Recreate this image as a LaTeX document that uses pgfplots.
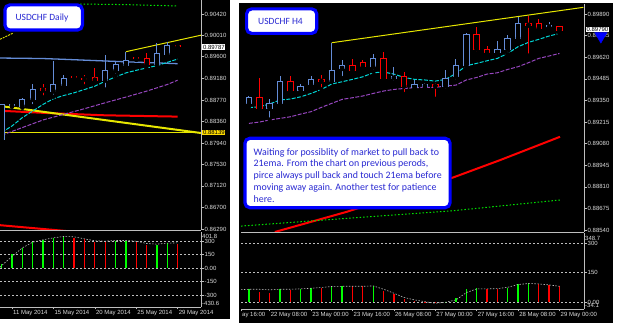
\documentclass[border=0pt]{standalone}
\usepackage{fontspec}
\setmainfont{Liberation Sans}
\newfontfamily\carlito{Carlito}
\usepackage{pgfplots}
\pgfplotsset{compat=1.18}
\usepackage{pgfplotstable}

\definecolor{candleblue}{RGB}{100,140,215}
\definecolor{mtred}{RGB}{255,0,0}
\definecolor{mtcyan}{RGB}{0,215,215}
\definecolor{mtpurple}{RGB}{150,70,190}
\definecolor{mtyellow}{RGB}{230,230,0}
\definecolor{mtgreen}{RGB}{0,230,0}
\definecolor{histgreen}{RGB}{0,255,0}
\definecolor{axisgray}{RGB}{190,190,190}
\definecolor{labelgray}{RGB}{220,220,220}
\definecolor{boxblue}{RGB}{0,0,255}
\definecolor{textblue}{RGB}{40,40,210}
\definecolor{pricegold}{RGB}{255,220,0}

\newcommand\ticklbl{\fontsize{6}{7}\selectfont}

\pgfplotstableread{
x o h l c
0 0.8802 0.8870 0.8798 0.8868
1 0.8866 0.8869 0.8864 0.8868
2 0.8865 0.8881 0.8862 0.8878
3 0.8878 0.8908 0.8865 0.8897
5 0.8894 0.8951 0.8883 0.8907
6 0.8905 0.8924 0.8898 0.8919
10 0.8915 0.8964 0.8897 0.8933
11 0.8933 0.8951 0.8923 0.8945
12 0.8944 0.8970 0.8944 0.8953
15 0.8945 0.8986 0.8937 0.8966
16 0.8965 0.8989 0.8964 0.8982
}\LBull
\pgfplotstableread{
x o h l c
4 0.8898 0.8907 0.8882 0.8896
7 0.8922 0.8923 0.8919 0.8920
8 0.8918 0.8924 0.8903 0.8917
9 0.8921 0.8938 0.8913 0.8915
13 0.8959 0.8960 0.8954 0.8956
14 0.8956 0.8967 0.8937 0.8945
17 0.8981 0.8981 0.8977 0.8979
}\LBear
\pgfplotstableread{
x o h l c
0 0.8933 0.8938 0.8931 0.8937
2 0.8930 0.8936 0.8923 0.8933
3 0.8933 0.8950 0.8932 0.8947
5 0.8941 0.8945 0.8939 0.8944
6 0.8945 0.8950 0.8944 0.8948
8 0.8947 0.8971 0.8947 0.8954
9 0.8955 0.8960 0.8949 0.8957
12 0.8956 0.8964 0.8953 0.8961
14 0.8949 0.8956 0.8946 0.8950
16 0.8943 0.8948 0.8942 0.8945
17 0.8944 0.8946 0.8943 0.8945
19 0.8944 0.8954 0.8941 0.8949
20 0.8950 0.8961 0.8947 0.8957
21 0.8957 0.8977 0.8956 0.8976
24 0.8965 0.8972 0.8965 0.8967
25 0.8967 0.8976 0.8964 0.8974
26 0.8974 0.8987 0.8973 0.8983
29 0.8981 0.8984 0.8979 0.8982
}\RBull
\pgfplotstableread{
x o h l c
1 0.8937 0.8949 0.8930 0.8930
4 0.8947 0.8950 0.8941 0.8941
7 0.8948 0.8951 0.8942 0.8947
10 0.8957 0.8961 0.8952 0.8954
11 0.8959 0.8960 0.8955 0.8956
13 0.8961 0.8965 0.8949 0.8949
15 0.8950 0.8953 0.8939 0.8944
18 0.8945 0.8946 0.8936 0.8944
22 0.8976 0.8981 0.8964 0.8967
23 0.8967 0.8969 0.8964 0.8965
27 0.8983 0.8988 0.8963 0.8982
28 0.8983 0.8986 0.8980 0.8980
30 0.8981 0.8981 0.8977 0.8979
}\RBear

\pgfplotsset{
  mtaxis/.style={scale only axis, anchor=south west,
    axis line style={draw=axisgray, -, line width=0.7pt},
    tick style={draw=axisgray, line width=0.6pt},
    tick align=outside, major tick length=2.5pt,
    ticklabel style={font=\ticklbl, text=labelgray},
    yticklabel style={anchor=west, inner sep=0pt, xshift=1pt},
    xticklabel style={anchor=north west, inner sep=0pt, yshift=-1pt, xshift=1pt}},
  wick/.style={only marks, mark=none, forget plot,
    error bars/.cd, y dir=plus, y explicit, error mark=none,
    error bar style={draw=#1, line width=1pt}},
  body/.style 2 args={only marks, mark=none, forget plot,
    error bars/.cd, y dir=plus, y explicit, error mark=none,
    error bar style={draw=#1, line width=#2}},
}

% candles: #1 table, #2 colour, #3 outer width, #4 inner width, #5 half pixel in price
\newcommand\candles[5]{%
  \addplot[wick=#2] table[x=x, y=l, y error plus expr=\thisrow{h}-\thisrow{l}] {#1};
  \addplot[body={#2}{#3}] table[x=x, y expr={min(\thisrow{o},\thisrow{c})-#5},
     y error plus expr={abs(\thisrow{c}-\thisrow{o})+2*#5}] {#1};
  \addplot[body={black}{#4}] table[x=x, y expr={min(\thisrow{o},\thisrow{c})+#5},
     y error plus expr={max(abs(\thisrow{c}-\thisrow{o})-2*#5,0)}] {#1};
}

\begin{document}
\begin{tikzpicture}
\useasboundingbox (0pt,0pt) rectangle (625pt,323pt);
\fill[white] (0pt,0pt) rectangle (625pt,323pt);
\fill[black] (0pt,4pt) rectangle (229.5pt,323pt);
\fill[black] (238.5pt,0pt) rectangle (613pt,319.7pt);

% ================= LEFT PANEL =================
\begin{scope}
\clip (0pt,4pt) rectangle (229.5pt,323pt);
\begin{axis}[mtaxis, at={(0pt,93pt)}, width=201pt, height=230pt,
  xmin=-0.164, xmax=19.26, ymin=0.86273, ymax=0.90689,
  hide x axis, axis y line*=right,
  ytick={0.8629,0.8670,0.8712,0.8753,0.8794,0.8836,0.8877,0.8918,0.8960,0.9001,0.9042},
  yticklabels={0.86290,0.86700,0.87120,0.87530,0.87940,0.88360,0.88770,0.89180,0.89600,0.90010,0.90420}]
  \addplot[candleblue, line width=1.3pt] coordinates {(-0.2,0.89575) (4,0.89565) (6,0.8955) (11,0.8951) (17,0.89466)};
  \addplot[mtred, line width=2pt] coordinates {(-0.2,0.88563) (5,0.88513) (10,0.88475) (17,0.8845)};
  \addplot[mtred, line width=2pt] coordinates {(-0.2,0.86366) (6.3,0.86252) (8,0.8622)};
  \addplot[mtyellow, line width=2pt] coordinates {(-0.164,0.88654) (19.26,0.88135)};
  \addplot[mtyellow, line width=1.1pt] coordinates {(0.22,0.88139) (19.26,0.88139)};
  \addplot[mtyellow, line width=0.9pt, dash pattern=on 2pt off 1pt] coordinates {(-0.164,0.89934) (1.06,0.90049)};
  \addplot[mtyellow, line width=1pt] coordinates {(12,0.89696) (19.35,0.90017)};
  \addplot[mtgreen, line width=1pt, dash pattern=on 1.5pt off 2pt] coordinates {(7.57,0.90612) (12,0.90600) (17,0.90574)};
  \addplot[mtpurple, line width=1pt, dash pattern=on 4pt off 1.5pt] coordinates {
    (0,0.88093) (2,0.88240) (4,0.88386) (6,0.88494) (8,0.88602) (10,0.88716)
    (12,0.88825) (14,0.88939) (16,0.89066) (17,0.89149)};
  \addplot[mtcyan, line width=1pt, dash pattern=on 4pt off 1.5pt] coordinates {
    (0,0.88145) (1,0.88271) (2,0.88431) (3,0.88557) (4,0.88685) (5,0.88793)
    (6,0.88856) (7,0.88907) (8,0.88971) (9,0.89034) (10,0.89129) (11,0.89212)
    (12,0.89289) (13,0.89339) (14,0.89384) (15,0.89428) (16,0.89492) (17,0.89555)};
  \candles{\LBull}{candleblue}{6pt}{4pt}{0.0001}
  \candles{\LBear}{mtred}{6pt}{4pt}{0.0001}
\end{axis}

\begin{axis}[mtaxis, at={(0pt,16pt)}, width=201pt, height=75pt,
  xmin=-0.164, xmax=19.26, ymin=-430.6, ymax=401.8,
  axis x line*=bottom, axis y line*=right,
  xtick={1,5,9,13,17},
  xticklabels={11 May 2014,15 May 2014,20 May 2014,25 May 2014,29 May 2014},
  ytick={-300,-150,0,150,300}, yticklabels={-300,-150,0.00,150,300},
  extra y ticks={-386,357}, extra y tick labels={-430.6,401.8},
  extra y tick style={grid=none, major tick length=0pt},
  ymajorgrids, major grid style={draw=axisgray, line width=0.5pt, dash pattern=on 2pt off 2pt}]
  \addplot[ycomb, histgreen, line width=1.3pt] coordinates {
    (0,48) (1,156) (2,226) (3,289) (4,315) (5,330) (6,352) (11,307) (12,304) (15,259) (16,281)};
  \addplot[ycomb, mtred, line width=1.3pt] coordinates {
    (7,337) (8,319) (9,293) (10,293) (13,296) (14,259) (17,274)};
  \addplot[axisgray, line width=0.6pt, dash pattern=on 1.5pt off 1.5pt] coordinates {
    (-0.164,10) (0,30) (1,130) (2,226) (3,289) (4,315) (5,337) (6,352) (7,348) (8,326)
    (9,304) (10,300) (11,307) (12,307) (13,300) (14,274) (15,267) (16,278) (17,281)};
\end{axis}
\end{scope}
\draw[axisgray, line width=0.7pt] (0pt,92.7pt) -- (201pt,92.7pt);

% ================= RIGHT PANEL =================
\begin{scope}
\clip (241pt,0pt) rectangle (613pt,319.7pt);
\begin{axis}[mtaxis, at={(241pt,91pt)}, width=343pt, height=228pt,
  xmin=-0.77, xmax=32.37, ymin=0.88528, ymax=0.89953, clip=false,
  hide x axis, axis y line*=right,
  ytick={0.8854,0.88675,0.8881,0.88945,0.8908,0.89215,0.8935,0.89485,0.8962,0.89755,0.8989},
  yticklabels={0.88540,0.88675,0.88810,0.88945,0.89080,0.89215,0.89350,0.89485,0.89620,0.89755,0.89890}]
  \addplot[mtred, line width=2pt] coordinates {(2.5,0.88528) (9.44,0.88654) (19.74,0.88869) (24.25,0.88977) (30.05,0.89123)};
  \addplot[mtgreen, line width=1pt, dash pattern=on 1.5pt off 2pt] coordinates {(-0.77,0.88565) (19.74,0.88661) (30.05,0.88728)};
  \addplot[mtyellow, line width=1pt] coordinates {(8,0.89711) (32.3,0.89932)};
  \addplot[mtpurple, line width=1pt, dash pattern=on 4pt off 1.5pt] coordinates {
    (0,0.89207) (1,0.89215) (2,0.89228) (3,0.89238) (4,0.89248) (5,0.89265) (6,0.89280)
    (7,0.89307) (8,0.89332) (9,0.89357) (10,0.89367) (11,0.89378) (12,0.89394) (13,0.89409)
    (14,0.89419) (15,0.89425) (16,0.89430) (17,0.89432) (18,0.89432) (19,0.89440) (20,0.89446)
    (21,0.89478) (22,0.89494) (23,0.89515) (24,0.89523) (25,0.89544) (26,0.89561) (27,0.89586)
    (28,0.89613) (29,0.89628) (30,0.89644)};
  \addplot[mtcyan, line width=1pt, dash pattern=on 4pt off 1.5pt] coordinates {
    (0,0.89305) (1,0.89311) (2,0.89328) (3,0.89353) (4,0.89359) (5,0.89373) (6,0.89394)
    (7,0.89419) (8,0.89453) (9,0.89467) (10,0.89482) (11,0.89498) (12,0.89523) (13,0.89528)
    (14,0.89515) (15,0.89494) (16,0.89482) (17,0.89478) (18,0.89471) (19,0.89482) (20,0.89519)
    (21,0.89567) (22,0.89582) (23,0.89598) (24,0.89613) (25,0.89644) (26,0.89686) (27,0.89713)
    (28,0.89732) (29,0.89753) (30,0.89769)};
  \candles{\RBull}{candleblue}{6.5pt}{4.5pt}{0.00003}
  \candles{\RBear}{mtred}{6.5pt}{4.5pt}{0.00003}
  \addplot[only marks, mark=triangle*, mark size=7pt,
    mark options={rotate=180, fill=boxblue, draw=boxblue}] coordinates {(34.0,0.89752)};
\end{axis}

\begin{axis}[mtaxis, at={(241pt,14pt)}, width=343pt, height=75.5pt,
  xmin=-0.77, xmax=32.37, ymin=-34.1, ymax=348.7,
  axis x line*=bottom, axis y line*=right,
  xtick={-0.77,2,6,10,14,18,22,26,30},
  xticklabels={ay 16:00,22 May 08:00,23 May 00:00,23 May 16:00,26 May 08:00,27 May 00:00,27 May 16:00,28 May 08:00,29 May 00:00},
  ytick={0,150,300}, yticklabels={0.00,150,300},
  extra y ticks={-14,326}, extra y tick labels={-34.1,348.7},
  extra y tick style={grid=none, major tick length=0pt},
  ymajorgrids, major grid style={draw=axisgray, line width=0.5pt, dash pattern=on 2pt off 2pt}]
  \addplot[ycomb, histgreen, line width=1.3pt] coordinates {
    (0,66) (3,66) (5,66) (6,71) (8,83) (9,83) (12,83) (19,2) (20,24) (21,66) (22,71) (25,71) (26,92) (27,97)};
  \addplot[ycomb, mtred, line width=1.3pt] coordinates {
    (1,51) (2,46) (4,63) (7,71) (10,80) (11,80) (13,58) (14,41) (15,17) (16,5) (17,2) (18,-5)
    (23,66) (24,66) (28,92) (29,88) (30,80)};
  \addplot[axisgray, line width=0.6pt, dash pattern=on 1.5pt off 1.5pt] coordinates {
    (-0.77,64) (0,66) (1,66) (2,63) (3,66) (4,66) (5,68) (6,71) (7,75) (8,80) (9,81) (10,81)
    (11,81) (12,83) (13,66) (14,46) (15,24) (16,12) (17,3) (18,-5) (19,0) (20,12) (21,49)
    (22,68) (23,68) (24,69) (25,76) (26,90) (27,95) (28,93) (29,88) (30,81)};
\end{axis}
\end{scope}
\draw[axisgray, line width=0.7pt] (241pt,90.7pt) -- (584pt,90.7pt);

% ================= OVERLAYS =================
\begin{scope}[x=1pt,y=1pt]
\node[fill=white, text=black, inner sep=0.6pt, anchor=west, font=\ticklbl] at (202.2,323-47) {0.89787};
\node[fill=pricegold, text=black, inner sep=0.6pt, anchor=west, font=\ticklbl] at (202.2,323-132.6) {0.88139};
\node[fill=white, text=black, inner sep=0.6pt, anchor=west, font=\ticklbl] at (585.8,323-29.5) {0.89790};

\draw[boxblue, line width=3.2pt, fill=white, rounded corners=5pt] (4.9,318.1) rectangle (82.4,292.9);
\node[text=textblue, font=\carlito\fontsize{9.5}{11}\selectfont] at (42,323-17.5) {USDCHF Daily};

\draw[boxblue, line width=3.2pt, fill=white, rounded corners=5pt] (246.6,314.1) rectangle (316.7,289.6);
\node[text=textblue, font=\carlito\fontsize{9.5}{11}\selectfont] at (280.5,323-21.7) {USDCHF H4};

\draw[boxblue, line width=3.2pt, fill=white, rounded corners=5pt] (244.9,184.7) rectangle (450.1,115.3);
\node[text=textblue, anchor=north west, inner sep=0pt, align=left,
  font=\carlito\fontsize{9.9}{11.8}\selectfont] at (253.5,323-148)
  {Waiting for possiblity of market to pull back to\\
   21ema. From the chart on previous perods,\\
   pirce always pull back and touch 21ema before\\
   moving away again. Another test for patience\\
   here.};
\end{scope}
\end{tikzpicture}
\end{document}
